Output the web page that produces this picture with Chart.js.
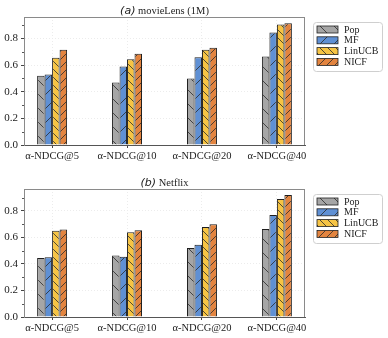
<!DOCTYPE html>
<html>
<head>
<meta charset="utf-8">
<script src="https://cdn.jsdelivr.net/npm/chart.js@4"></script>
<style>
  body { margin: 0; background: #fff; }
  .box { position: absolute; left: 0; width: 388px; height: 166px; }
</style>
</head>
<body>
<div class="box" style="top:0"><canvas id="chartA"></canvas></div>
<div class="box" style="top:172px"><canvas id="chartB"></canvas></div>
<script>
// categories + series
const categories = ['α-NDCG@5', 'α-NDCG@10', 'α-NDCG@20', 'α-NDCG@40'];
const seriesNames = ['Pop', 'MF', 'LinUCB', 'NICF'];

// (a) movieLens (1M)
const popA = [0.52, 0.47, 0.50, 0.665];
const mfA = [0.53, 0.59, 0.66, 0.845];
const linucbA = [0.655, 0.645, 0.715, 0.905];
const nicfA = [0.715, 0.685, 0.73, 0.915];

// (b) Netflix
const popB = [0.445, 0.465, 0.52, 0.665];
const mfB = [0.45, 0.455, 0.545, 0.77];
const linucbB = [0.65, 0.64, 0.68, 0.89];
const nicfB = [0.66, 0.655, 0.70, 0.92];

const yTicks = [0.0, 0.2, 0.4, 0.6, 0.8];
const yMinorTicks = [0.1, 0.3, 0.5, 0.7, 0.9];

const serif = '"Liberation Serif", "DejaVu Serif", serif';

function hatch(bg, dir, size) {
  const c = document.createElement('canvas');
  c.width = size; c.height = size;
  const g = c.getContext('2d');
  g.fillStyle = bg;
  g.fillRect(0, 0, size, size);
  g.strokeStyle = '#2a2a2a';
  g.lineWidth = 0.8;
  g.beginPath();
  for (let k = -1; k <= 1; k++) {
    if (dir === '\\') {
      g.moveTo(k * size, 0); g.lineTo(k * size + size, size);
    } else {
      g.moveTo(k * size, size); g.lineTo(k * size + size, 0);
    }
  }
  g.stroke();
  return g.createPattern(c, 'repeat');
}

const fills = [
  hatch('#a6a6a6', '\\', 14),
  hatch('#5f90d4', '/', 14),
  hatch('#f6c444', '\\', 8),
  hatch('#e3843f', '/', 8)
];

// frame, minor ticks, title, legend box
const decor = {
  id: 'decor',
  afterDraw(chart, args, opts) {
    const ctx = chart.ctx;
    const a = chart.chartArea;
    const y = chart.scales.y;
    ctx.save();
    ctx.strokeStyle = '#8a8a8a';
    ctx.lineWidth = 1;
    ctx.beginPath();
    ctx.moveTo(a.left, a.top + 0.5); ctx.lineTo(a.right, a.top + 0.5);
    ctx.moveTo(a.right - 0.5, a.top); ctx.lineTo(a.right - 0.5, a.bottom);
    ctx.stroke();

    ctx.strokeStyle = '#555';
    ctx.beginPath();
    yMinorTicks.forEach(v => {
      if (v > y.max) return;
      const py = Math.round(y.getPixelForValue(v)) + 0.5;
      ctx.moveTo(a.left - 2, py); ctx.lineTo(a.left, py);
    });
    ctx.stroke();

    // title centred over plot
    const cx = (a.left + a.right) / 2;
    ctx.fillStyle = '#222';
    ctx.textBaseline = 'middle';
    ctx.font = 'italic 11px "DejaVu Sans", sans-serif';
    const w1 = ctx.measureText(opts.tag).width;
    ctx.font = '10.5px ' + serif;
    const w2 = ctx.measureText(' ' + opts.title).width;
    let x0 = cx - (w1 + w2) / 2;
    ctx.font = 'italic 11px "DejaVu Sans", sans-serif';
    ctx.textAlign = 'left';
    ctx.fillText(opts.tag, x0, 11);
    ctx.font = '10.5px ' + serif;
    ctx.fillText(' ' + opts.title, x0 + w1, 11);

    // legend
    const lx = a.right + 8, ly = a.top + 5, lw = 69, lh = 49;
    ctx.strokeStyle = '#cfcfcf';
    ctx.fillStyle = '#fff';
    ctx.beginPath();
    ctx.roundRect(lx + 0.5, ly + 0.5, lw, lh, 3);
    ctx.fill();
    ctx.stroke();
    chart.data.datasets.forEach((ds, i) => {
      const ry = ly + 7.5 + i * 10.8;
      ctx.fillStyle = ds.backgroundColor;
      ctx.fillRect(lx + 4, ry - 3.5, 21, 7);
      ctx.strokeStyle = '#222';
      ctx.lineWidth = 0.8;
      ctx.strokeRect(lx + 4, ry - 3.5, 21, 7);
      ctx.fillStyle = '#222';
      ctx.font = '10px ' + serif;
      ctx.fillText(ds.label, lx + 31, ry + 0.5);
    });
    ctx.restore();
  }
};

function makeChart(id, tag, title, series, yMax) {
  return new Chart(document.getElementById(id), {
    type: 'bar',
    data: {
      datasets: series.map((vals, i) => ({
        label: seriesNames[i],
        data: vals.map((v, k) => ({ x: k, y: v })),
        backgroundColor: fills[i],
        borderColor: '#1e1e1e',
        borderWidth: 1,
        categoryPercentage: 0.4,
        barPercentage: 1.0
      }))
    },
    options: {
      responsive: true,
      maintainAspectRatio: false,
      animation: false,
      layout: { padding: { top: 17, right: 83, left: 0, bottom: 0 } },
      scales: {
        x: {
          type: 'linear',
          min: -0.375,
          max: 3.375,
          offset: false,
          afterBuildTicks: s => { s.ticks = categories.map((c, k) => ({ value: k })); },
          afterFit: s => { s.height = 21; },
          ticks: {
            callback: v => categories[v],
            font: { family: serif, size: 10.5 },
            color: '#222',
            padding: 2,
            maxRotation: 0,
            autoSkip: false
          },
          grid: { offset: false, color: '#ececec', tickLength: 3, tickColor: '#444' },
          border: { color: '#555', dash: [1, 2] }
        },
        y: {
          min: 0,
          max: yMax,
          afterBuildTicks: s => { s.ticks = yTicks.map(v => ({ value: v })); },
          afterFit: s => { s.width = 24; },
          ticks: {
            callback: v => v.toFixed(1),
            font: { family: serif, size: 11 },
            color: '#222',
            padding: 3
          },
          grid: { color: '#ececec', tickLength: 3, tickColor: '#444' },
          border: { color: '#8a8a8a', dash: [1, 2] }
        }
      },
      plugins: {
        legend: { display: false },
        tooltip: { enabled: false },
        decor: { tag: tag, title: title }
      }
    },
    plugins: [decor]
  });
}

makeChart('chartA', '(a)', 'movieLens (1M)', [popA, mfA, linucbA, nicfA], 0.962);
makeChart('chartB', '(b)', 'Netflix', [popB, mfB, linucbB, nicfB], 0.966);
</script>
</body>
</html>
